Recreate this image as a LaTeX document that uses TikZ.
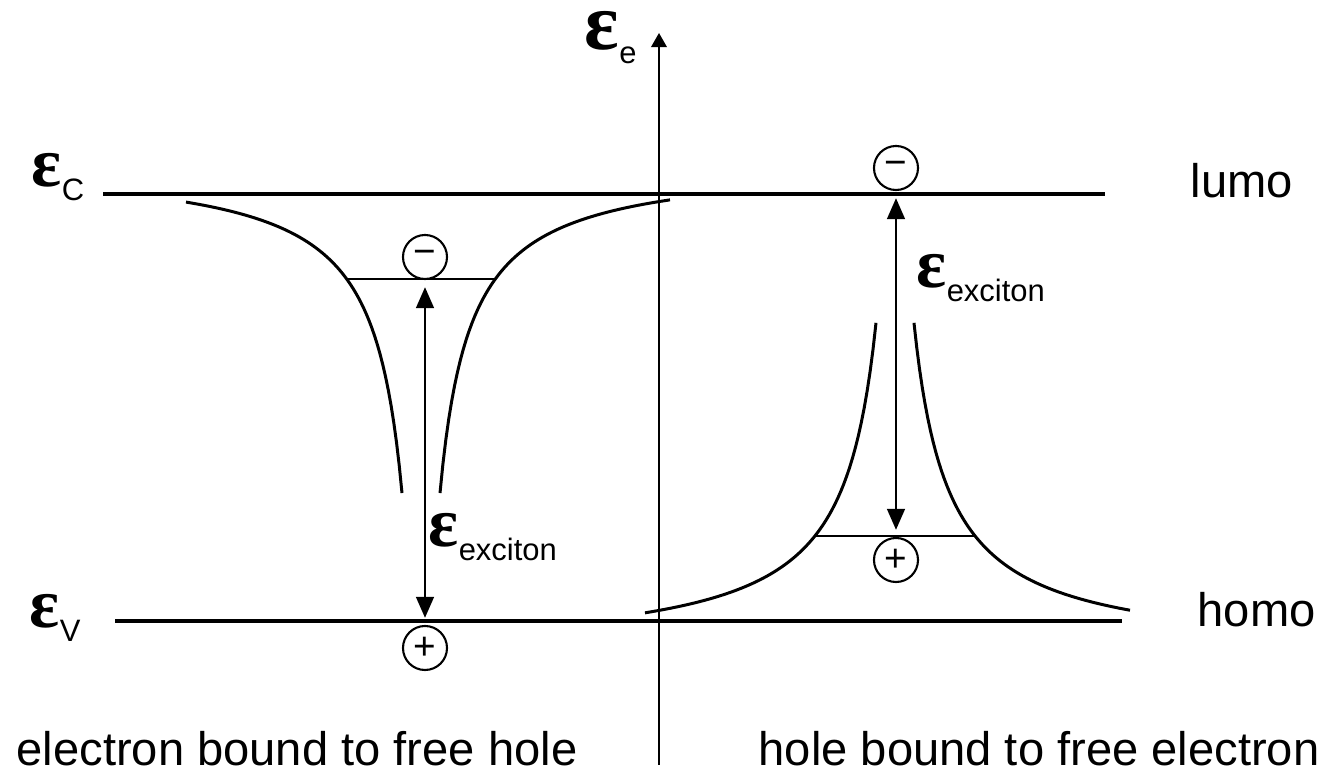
\documentclass[tikz,border=0pt]{standalone}
\usepackage{fontspec}
\setmainfont{Liberation Sans}
\newfontfamily\grkfont{Liberation Serif}
\usepackage{tikz}
\usetikzlibrary{arrows.meta,positioning}
\newcommand{\en}[2][20]{\smash{\grkfont\bfseries\fontsize{#1}{#1}\selectfont ε}\raisebox{-3.8pt}{\fontsize{8.8}{9}\selectfont #2}}

\begin{document}
\begin{tikzpicture}[x=0.01cm, y=-0.01cm,
  every node/.style={font=\fontsize{13.4}{15}\selectfont, inner sep=0pt},
  band/.style={line width=1.2pt},
  well/.style={line width=0.85pt},
  level/.style={line width=0.6pt},
  charge/.style={circle, draw, line width=0.6pt, minimum size=0.44cm, font=\fontsize{11}{11}\selectfont},
  gap/.style={line width=0.85pt, {Triangle[length=6pt,width=5pt]}-{Triangle[length=6pt,width=5pt]}, shorten <=2pt, shorten >=2pt}]

\useasboundingbox (0,0) rectangle (1323,782);

%% energy axis
\coordinate (ax0) at (659,765);
\coordinate (ax1) at (659,33);
\draw[line width=0.6pt, -{Triangle[length=4pt,width=4.4pt]}] (ax0) -- (ax1);
\node[anchor=base west] (ee) at (584,50) {\en[23]{e}};

%% band edges
\draw[band] (103,194) -- (1105,194);
\draw[band] (115,621) -- (1122,621);
\node[anchor=base west] (ec) at (31,187) {\en{C}};
\node[anchor=base west] (ev) at (29,628) {\en{V}};
\node[anchor=base west] (lumo) at (1190,198) {lumo};
\node[anchor=base west] (homo) at (1197,627) {homo};

%% left: electron bound to free hole (well around x=421)
\draw[well] plot[domain=19:235, samples=80] ({421-\x},{161+10127/(\x+11.5)});
\draw[well] plot[domain=19:249, samples=80] ({421+\x},{161+10127/(\x+11.5)});
\draw[level] (346,279) -- (496,279);
\node[charge] (eL) at (425,257) {−};
\node[charge] (hL) at (425,648) {+};
\draw[gap] (eL.south) -- (hL.north);
\node[anchor=base west] (xL) at (428,547) {\en{exciton}};
\node[anchor=base west] (capL) at (16,766) {electron bound to free hole};

%% right: hole bound to free electron (barrier around x=895)
\draw[well] plot[domain=19:250, samples=80] ({895-\x},{656-11460/(\x+15.4)});
\draw[well] plot[domain=19:235, samples=80] ({895+\x},{656-11460/(\x+15.4)});
\draw[level] (815,536) -- (975,536);
\node[charge] (eR) at (896,168) {−};
\node[charge] (hR) at (896,560) {+};
\draw[gap] (eR.south) -- (hR.north);
\node[anchor=base west] (xR) at (916,288) {\en{exciton}};
\node[anchor=base west] (capR) at (758,766) {hole bound to free electron};

\end{tikzpicture}
\end{document}
